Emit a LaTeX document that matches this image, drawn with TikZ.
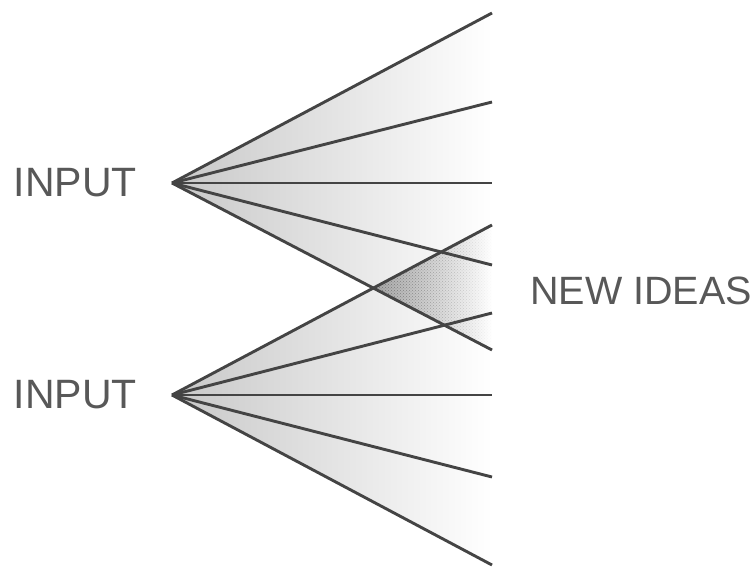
\documentclass[tikz,border=0pt]{standalone}
\usepackage{fontspec}
\setmainfont{Liberation Sans}
\usetikzlibrary{positioning,patterns,fadings}
\definecolor{linegray}{RGB}{68,68,68}
\definecolor{textgray}{RGB}{88,88,88}
\definecolor{fillgray}{RGB}{200,200,200}
\definecolor{dotgray}{RGB}{110,110,110}

\begin{document}
\begin{tikzpicture}[x=1pt,y=-1pt,
fanline/.style={draw=linegray,line width=2.9pt},
captext/.style={text=textgray,font=\fontsize{41}{41}\selectfont,inner sep=0pt}]
\useasboundingbox (0,0) rectangle (756,568);

% the two sources and where their rays end
\coordinate (in1) at (172,183);
\coordinate (in2) at (172,395);
\foreach \y [count=\i] in {13,102,183,265,350}
  \coordinate (a\i) at (492,\y);
\foreach \y [count=\i] in {225,313,395,477,565}
  \coordinate (b\i) at (492,\y);
\coordinate (cross) at (intersection of in1--a5 and in2--b1);

% fan fills
\shade[left color=fillgray,right color=white] (in1) -- (a1) -- (a5) -- cycle;
\shade[left color=fillgray,right color=white] (in2) -- (b1) -- (b5) -- cycle;

% overlap
\shade[left color=gray!70,right color=white] (cross) -- (b1) -- (a5) -- cycle;
\fill[pattern=crosshatch dots,pattern color=dotgray,path fading=east] (cross) -- (b1) -- (a5) -- cycle;

% rays
\foreach \i in {1,...,5}{
  \draw[fanline] (in1) -- (a\i);
  \draw[fanline] (in2) -- (b\i);
}

\node[captext,left=35pt of in1] (input1) {INPUT};
\node[captext,left=35pt of in2] (input2) {INPUT};
\node[captext,font=\fontsize{39.5}{40}\selectfont,anchor=east] (ideas) at (752,291) {NEW IDEAS};
\end{tikzpicture}
\end{document}
